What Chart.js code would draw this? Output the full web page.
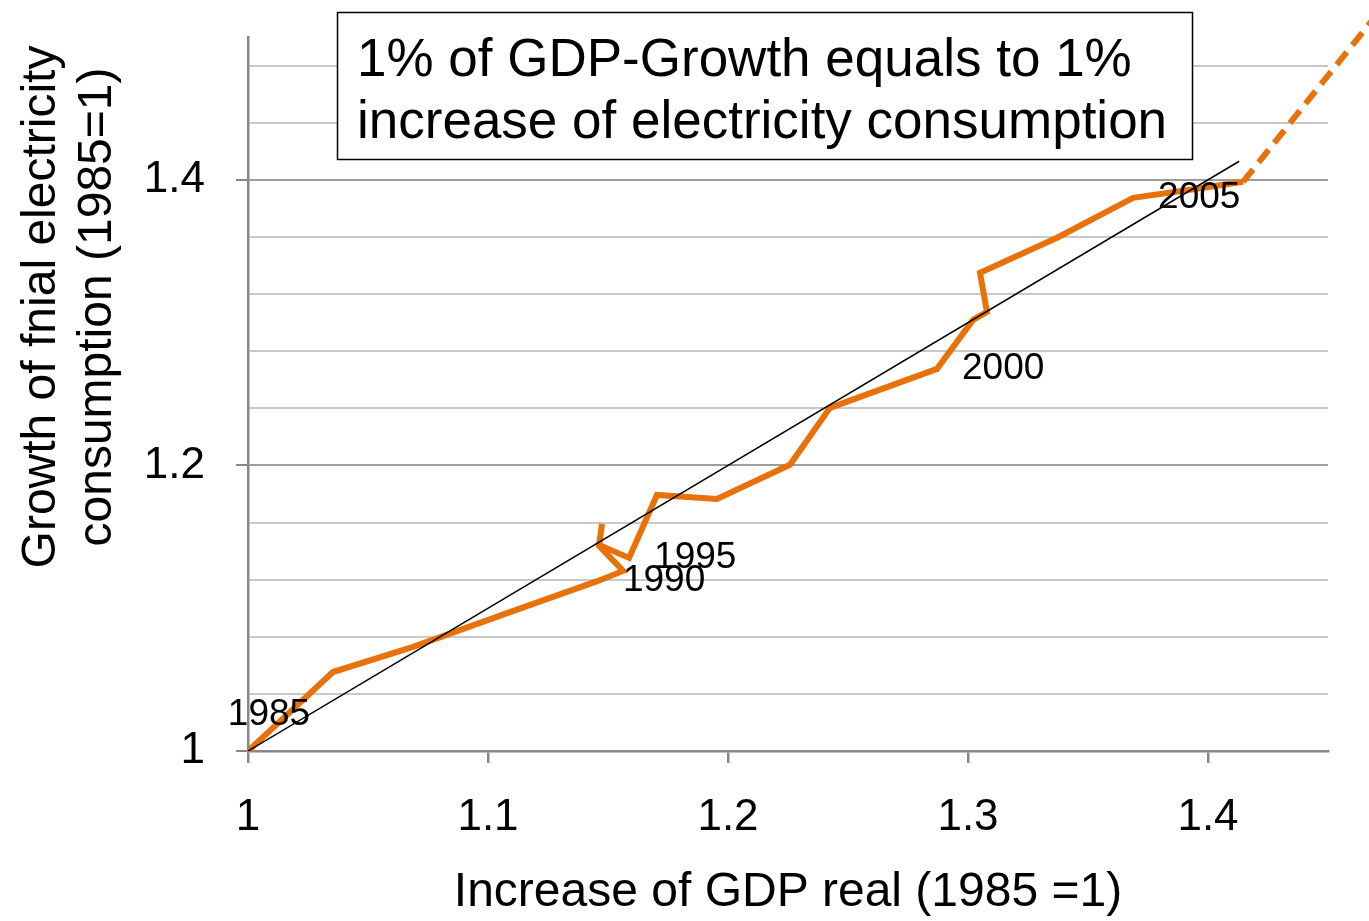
<!DOCTYPE html>
<html>
<head>
<meta charset="utf-8">
<title>GDP growth vs electricity consumption</title>
<script src="https://cdn.jsdelivr.net/npm/chart.js@4.4.1/dist/chart.umd.min.js"></script>
<style>
  html, body { margin: 0; padding: 0; background: #fff; }
  canvas { display: block; }
</style>
</head>
<body>
<canvas id="chart" width="1369" height="921"></canvas>
<script>
// values (1985 = 1)
const years = [1985, 1986, 1987, 1988, 1989, 1990, 1991, 1992, 1993, 1994, 1995, 1996,
               1997, 1998, 1999, 2000, 2001, 2002, 2003, 2004, 2005, 2006, 2007];
const gdp = [1.000, 1.0175, 1.0354, 1.0688, 1.1071, 1.1458, 1.1563, 1.1463, 1.1475, 1.1463, 1.1588, 1.1704,
             1.1954, 1.2258, 1.2425, 1.2871, 1.3021, 1.3079, 1.3050, 1.3371, 1.3688, 1.3925, 1.4146];
const electricity = [1.000, 1.0273, 1.0553, 1.0729, 1.0960, 1.1191, 1.1261, 1.1436, 1.1590, 1.1443, 1.1352, 1.1793,
                     1.1765, 1.2004, 1.2403, 1.2676, 1.3019, 1.3075, 1.3349, 1.3594, 1.3874, 1.3930, 1.3986];
const labeledYears = [1985, 1990, 1995, 2000, 2005];

// dashed outlook after the last year
const outlookGdp = [1.4146, 1.5];
const outlookElectricity = [1.3986, 1.578];

// 1:1 line
const parityLine = [1.0, 1.413];

const xTicks = [1, 1.1, 1.2, 1.3, 1.4];
const yTicks = [1, 1.04, 1.08, 1.12, 1.16, 1.2, 1.24, 1.28, 1.32, 1.36, 1.4, 1.44, 1.48];
const yLabeled = [1, 1.2, 1.4];

const xTitle = 'Increase of GDP real (1985 =1)';
const yTitle = ['Growth of fnial electricity', 'consumption (1985=1)'];
const note = ['1% of GDP-Growth equals to 1%', 'increase of electricity consumption'];

const FONT = '"Liberation Sans", Arial, sans-serif';
const ORANGE = '#E8710A';

function isLabeled(v) {
  return yLabeled.some(t => Math.abs(t - v) < 1e-6);
}

const extras = {
  id: 'extras',
  afterDatasetsDraw(chart) {
    const { ctx } = chart;
    const x = chart.scales.x;
    const y = chart.scales.y;
    ctx.save();

    // year labels next to the points
    ctx.font = '37px ' + FONT;
    ctx.fillStyle = '#000';
    ctx.textBaseline = 'middle';
    labeledYears.forEach(year => {
      const i = years.indexOf(year);
      const px = x.getPixelForValue(gdp[i]);
      const py = y.getPixelForValue(electricity[i]);
      if (i === 0) {
        ctx.textAlign = 'center';
        ctx.fillText(String(year), px + 21, py - 36);
      } else {
        ctx.textAlign = 'left';
        ctx.fillText(String(year), px + 25, py);
      }
    });

    // note box
    ctx.fillStyle = '#fff';
    ctx.fillRect(337, 12, 855, 147);
    ctx.strokeStyle = '#000';
    ctx.lineWidth = 1.5;
    ctx.strokeRect(337.5, 12.5, 855, 147);
    ctx.fillStyle = '#000';
    ctx.font = '53px ' + FONT;
    ctx.textAlign = 'left';
    ctx.textBaseline = 'alphabetic';
    ctx.fillText(note[0], 357, 76);
    ctx.fillText(note[1], 357, 138);

    // y axis title (two lines, rotated)
    ctx.font = '48px ' + FONT;
    ctx.textAlign = 'center';
    ctx.textBaseline = 'middle';
    ctx.translate(42, 307);
    ctx.rotate(-Math.PI / 2);
    ctx.fillText(yTitle[0], 0, 0);
    ctx.fillText(yTitle[1], 0, 56);
    ctx.restore();
  }
};

new Chart(document.getElementById('chart'), {
  type: 'line',
  data: {
    datasets: [
      {
        label: '1:1',
        data: parityLine.map(v => ({ x: v, y: v })),
        borderColor: '#000',
        borderWidth: 1.5,
        pointRadius: 0
      },
      {
        label: 'Germany',
        data: gdp.map((v, i) => ({ x: v, y: electricity[i] })),
        borderColor: ORANGE,
        borderWidth: 6,
        pointRadius: 0,
        borderJoinStyle: 'miter'
      },
      {
        label: 'outlook',
        data: outlookGdp.map((v, i) => ({ x: v, y: outlookElectricity[i] })),
        borderColor: ORANGE,
        borderWidth: 6,
        borderDash: [16, 9],
        pointRadius: 0,
        clip: false
      }
    ]
  },
  options: {
    responsive: false,
    devicePixelRatio: 1,
    animation: false,
    layout: { padding: { top: 37, right: 41, left: 0, bottom: 0 } },
    plugins: { legend: { display: false }, tooltip: { enabled: false } },
    scales: {
      x: {
        type: 'linear',
        min: 1,
        max: 1.45,
        afterBuildTicks: s => { s.ticks = xTicks.map(v => ({ value: v })); },
        afterFit: s => { s.height = 170; s.paddingLeft = 0; s.paddingRight = 0; },
        border: { color: '#878787', width: 2.5 },
        grid: { drawOnChartArea: false, drawTicks: true, tickLength: 12, color: '#878787', lineWidth: 2.5 },
        ticks: {
          font: { family: FONT, size: 44 },
          color: '#000',
          padding: 28,
          maxRotation: 0,
          autoSkip: false,
          callback: v => String(v)
        },
        title: {
          display: true,
          text: xTitle,
          color: '#000',
          font: { family: FONT, size: 48, lineHeight: 1.17 },
          padding: { top: 0, bottom: 0 }
        }
      },
      y: {
        type: 'linear',
        min: 1,
        max: 1.5,
        afterBuildTicks: s => { s.ticks = yTicks.map(v => ({ value: v })); },
        afterFit: s => { s.width = 248; s.paddingTop = 0; s.paddingBottom = 0; },
        border: { color: '#878787', width: 2.5 },
        grid: {
          tickLength: 12,
          lineWidth: 2,
          color: c => isLabeled(c.tick.value) ? '#9c9c9c' : '#c8c8c8',
          tickColor: c => isLabeled(c.tick.value) ? '#878787' : 'rgba(0,0,0,0)'
        },
        ticks: {
          font: { family: FONT, size: 44 },
          color: '#000',
          padding: 31,
          autoSkip: false,
          callback: v => isLabeled(v) ? String(Math.round(v * 10) / 10) : ''
        }
      }
    }
  },
  plugins: [extras]
});
</script>
</body>
</html>
